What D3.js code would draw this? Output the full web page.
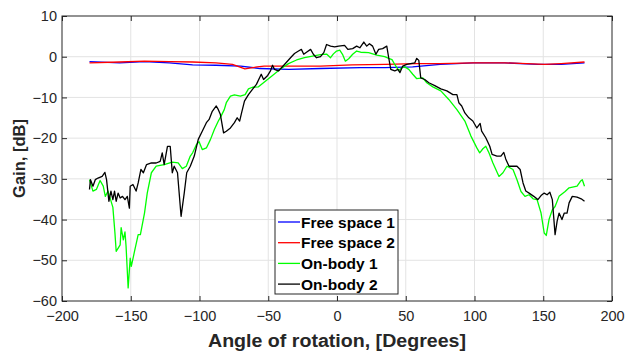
<!DOCTYPE html>
<html>
<head>
<meta charset="utf-8">
<script src="https://cdn.jsdelivr.net/npm/d3@7"></script>
<style>
  html, body { margin: 0; padding: 0; background: #fff; }
  svg { display: block; font-family: "Liberation Sans", Arial, Helvetica, sans-serif; }
</style>
</head>
<body>
<svg id="chart" width="627" height="352"></svg>
<script>
// Radiation gain vs. rotation angle — free space vs. on-body measurements
const xTicks = [-200, -150, -100, -50, 0, 50, 100, 150, 200];
const yTicks = [-60, -50, -40, -30, -20, -10, 0, 10];
const seriesNames = ["Free space 1", "Free space 2", "On-body 1", "On-body 2"];
const seriesColors = ["#0000ff", "#ff0000", "#00ff00", "#000000"];

// [angle (deg), gain (dB)]
const freeSpace1 = [
  [-180,-1.2],[-158,-1.5],[-140,-1.2],[-122,-1.5],[-105,-2.0],[-88,-2.1],[-70,-2.3],
  [-56,-2.9],[-35,-3.1],[-12,-2.9],[17,-2.7],[35,-2.7],[55,-2.5],[75,-1.9],[99,-1.5],
  [122,-1.5],[146,-1.9],[163,-1.9],[180,-1.5]
];
const freeSpace2 = [
  [-180,-1.5],[-158,-1.3],[-140,-1.1],[-122,-1.2],[-105,-1.3],[-88,-1.5],[-76,-1.9],
  [-67,-3.0],[-58,-2.5],[-53,-2.3],[-35,-2.3],[-12,-2.3],[11,-2.0],[35,-1.9],[58,-1.7],
  [75,-1.7],[99,-1.5],[122,-1.5],[151,-1.9],[163,-1.7],[180,-1.3]
];
const onBody1 = [
  [-180,-30.2],[-177.5,-33],[-175,-32.6],[-172.3,-30.4],[-170,-31.8],[-168.5,-34.3],
  [-166.5,-33],[-163,-37],[-161.5,-43.3],[-160.6,-47.8],[-157.7,-46.2],[-157,-42],
  [-155.4,-45],[-154.2,-43],[-153.4,-46.6],[-151.9,-56.8],[-150.4,-49.5],[-149.6,-51.5],
  [-147.5,-48.2],[-144.6,-43.7],[-143,-43.7],[-140,-38.4],[-138,-33.5],[-135,-28.5],
  [-131.5,-26.9],[-125.7,-26.5],[-119.8,-25.9],[-115.5,-26.1],[-112.5,-27.5],
  [-109.6,-26.9],[-106.7,-24.4],[-105,-23.6],[-102.3,-21.6],[-100.3,-20.9],[-98,-22.8],
  [-95,-22.4],[-92,-20.3],[-89.2,-17.9],[-86.3,-15.8],[-84.3,-14.6],[-82,-13],
  [-80.5,-11.3],[-77.5,-9.7],[-74.6,-9.4],[-70.3,-9.7],[-66.8,-9.3],[-64.4,-7.9],
  [-61.5,-7.5],[-57.1,-7.4],[-52.8,-6.2],[-46.9,-4.6],[-41.1,-3],[-35.3,-1.7],
  [-29.4,-0.8],[-23.6,-0.25],[-17.8,0.15],[-12,0.5],[-7.6,0.65],[-4.7,-0.25],
  [-2.6,0.7],[-0.3,1.4],[2,1.6],[4,0.6],[6.1,-1.1],[8.5,-0.5],[11.4,0.6],[14.3,1.4],
  [17.2,1.1],[23,1],[28.9,0.4],[34.7,0],[37.6,-0.4],[40,-0.7],[42,-1.9],[44.9,-3.4],
  [47.2,-2.7],[49.3,-2.5],[52.2,-3.1],[55.1,-4.3],[58,-5.4],[62.4,-5.2],[65.3,-6.4],
  [69.7,-7.4],[75.5,-8.4],[81.3,-10.5],[87.2,-13],[93,-15.8],[97.4,-19.5],
  [101.7,-22.4],[103.8,-23.6],[106.1,-22.6],[108.2,-22],[110.5,-23.6],[113.4,-26.1],
  [117.8,-29.4],[120.7,-28.5],[123.6,-26.9],[128,-27.7],[130.9,-30.2],[133.8,-33.1],
  [136.7,-34.3],[139.7,-33.9],[142.6,-34.9],[145.5,-35.1],[148.4,-38.4],[150.7,-43.3],
  [152.2,-43.9],[154.2,-40],[156.6,-37.6],[158.6,-36.8],[161.5,-34.3],[165.9,-33.1],
  [168.8,-32.2],[174.6,-31.8],[177,-30.6],[178.4,-30.2],[180,-31.8]
];
const onBody2 = [
  [-180,-32.6],[-179.3,-30.2],[-177.5,-31.8],[-175.8,-30.2],[-173.8,-29.8],
  [-170.8,-29.4],[-168.8,-28.4],[-167.6,-30.2],[-165.9,-35.5],[-164.4,-33],
  [-163,-35.1],[-161.8,-33],[-160.6,-35.5],[-159.2,-33.5],[-157.7,-34.7],[-156,-34.3],
  [-154.2,-35.1],[-152.5,-34.3],[-151,-37.2],[-150.4,-31.8],[-148.4,-31.4],
  [-146.1,-33],[-144.6,-31],[-142.6,-27.7],[-140.8,-28.5],[-138.5,-26.5],[-135,-26.1],
  [-131.5,-26.1],[-128.6,-25.7],[-127.1,-23.6],[-125.7,-26.5],[-123.3,-22],
  [-121.3,-22],[-119.8,-28.5],[-118.4,-26.9],[-116,-28.5],[-113.4,-39.2],
  [-111.1,-33.5],[-109.3,-28.5],[-106.7,-26.9],[-103.8,-24.4],[-100.9,-20.3],
  [-98,-18.3],[-95,-16.2],[-93,-15.4],[-90.7,-13.4],[-87.8,-12.1],[-86.3,-13],
  [-84.8,-14.2],[-82.5,-18.7],[-80.5,-18.3],[-77.5,-17.5],[-74.6,-16.2],[-72.6,-15],
  [-70.8,-15.8],[-69.4,-13.8],[-67.3,-10.9],[-64.4,-9.3],[-61.5,-8],[-58.6,-6.8],
  [-55.1,-4.3],[-53.4,-5.6],[-50.4,-4.6],[-48.4,-3.5],[-46.9,-2.1],[-45.5,-3.1],
  [-42.6,-3.5],[-38.2,-1.9],[-33.8,-0.25],[-30.9,0.8],[-28,1.4],[-25.9,1.8],
  [-24.2,0.6],[-22.2,1.1],[-19.2,1.8],[-17.2,0.6],[-14.9,-0.25],[-12,0],[-9.6,1],
  [-7.6,3],[-4.7,2.6],[-1.7,2.4],[1.2,2.6],[5.5,2.8],[7.9,1.8],[11.4,2],[14.3,2.6],
  [16.6,2.2],[19.5,3.6],[21.6,2.6],[23.6,3.2],[25.9,2.6],[28.3,0.6],[30.3,1.8],
  [33.2,2],[36.2,2.6],[37.6,-0.25],[39.1,-3.1],[42,-3.5],[44.3,-3.1],[45.8,-3.9],
  [47.8,-2.3],[50.7,-1.9],[53.6,-1.7],[56.6,-1.5],[58,-0.4],[59.5,-0.9],[60.9,-5.2],
  [63.8,-5.6],[66.8,-6.4],[71.1,-7.1],[75.5,-7.9],[79.9,-8.4],[84.3,-9.3],[87.2,-9.3],
  [88.6,-11.3],[90.7,-12.1],[93,-13.8],[95.9,-15],[98.8,-15.8],[101.7,-17.5],
  [104.1,-16.4],[105.2,-18.3],[108.2,-19.9],[111.1,-22],[112.8,-24],[116.3,-24.4],
  [119.2,-24.4],[121.3,-23.5],[122.7,-25.1],[125.1,-26.9],[128,-26.9],[130.9,-26.9],
  [133.2,-27.7],[135.3,-31],[137.3,-33],[139.7,-33.5],[143.1,-34.3],[146.1,-35.1],
  [148.4,-34.1],[150.7,-33.5],[152.8,-33.9],[154.8,-33.3],[156.6,-35.1],[158.6,-43.7],
  [160.1,-40.4],[161.5,-38.4],[163.6,-40],[165.3,-38.4],[167.3,-38.4],[168.8,-35.9],
  [171.1,-34.3],[174.6,-34.5],[177.6,-34.9],[180,-35.5]
];
const allSeries = [freeSpace1, freeSpace2, onBody1, onBody2];

const svg = d3.select("#chart");
const m = { left: 62, right: 612, top: 16, bottom: 301 };
const axisColor = "#262626";

const x = d3.scaleLinear().domain([-200, 200]).range([m.left, m.right]);
const y = d3.scaleLinear().domain([-60, 10]).range([m.bottom, m.top]);

// grid
const grid = svg.append("g");
grid.selectAll("line.gx").data(xTicks.slice(1, -1)).join("line")
  .attr("x1", d => x(d)).attr("x2", d => x(d))
  .attr("y1", m.top).attr("y2", m.bottom)
  .attr("stroke", "#e3e3e3").attr("stroke-width", 1);
grid.selectAll("line.gy").data(yTicks.slice(1, -1)).join("line")
  .attr("x1", m.left).attr("x2", m.right)
  .attr("y1", d => y(d)).attr("y2", d => y(d))
  .attr("stroke", "#e3e3e3").attr("stroke-width", 1);

// axes (ticks drawn inward on all four sides)
const tickLen = 5;
function styleAxis(g) {
  g.select(".domain").remove();
  g.selectAll(".tick line").attr("stroke", axisColor);
  g.selectAll(".tick text").attr("fill", axisColor).attr("font-size", 14.5)
    .attr("font-family", "'Liberation Sans', Arial, sans-serif");
}
svg.append("g").attr("transform", `translate(0,${m.bottom})`)
  .call(d3.axisBottom(x).tickValues(xTicks).tickSizeInner(-tickLen).tickSizeOuter(0).tickPadding(10))
  .call(styleAxis);
svg.append("g").attr("transform", `translate(0,${m.top})`)
  .call(d3.axisTop(x).tickValues(xTicks).tickSizeInner(-tickLen).tickSizeOuter(0).tickFormat(""))
  .call(styleAxis);
svg.append("g").attr("transform", `translate(${m.left},0)`)
  .call(d3.axisLeft(y).tickValues(yTicks).tickSizeInner(-tickLen).tickSizeOuter(0).tickPadding(5))
  .call(styleAxis);
svg.append("g").attr("transform", `translate(${m.right},0)`)
  .call(d3.axisRight(y).tickValues(yTicks).tickSizeInner(-tickLen).tickSizeOuter(0).tickFormat(""))
  .call(styleAxis);

// data lines
const clipId = "plotClip";
svg.append("clipPath").attr("id", clipId).append("rect")
  .attr("x", m.left).attr("y", m.top).attr("width", m.right - m.left).attr("height", m.bottom - m.top);
const line = d3.line().x(d => x(d[0])).y(d => y(d[1]));
svg.append("g").attr("clip-path", `url(#${clipId})`)
  .selectAll("path").data(allSeries).join("path")
  .attr("d", line)
  .attr("fill", "none")
  .attr("stroke", (d, i) => seriesColors[i])
  .attr("stroke-width", 1.3)
  .attr("stroke-linejoin", "round");

// frame
svg.append("rect")
  .attr("x", m.left).attr("y", m.top)
  .attr("width", m.right - m.left).attr("height", m.bottom - m.top)
  .attr("fill", "none").attr("stroke", axisColor).attr("stroke-width", 1);

// axis titles
svg.append("text")
  .attr("x", (m.left + m.right) / 2).attr("y", 347)
  .attr("text-anchor", "middle").attr("font-weight", "bold").attr("font-size", 18)
  .attr("textLength", 258).attr("lengthAdjust", "spacingAndGlyphs")
  .attr("fill", axisColor)
  .text("Angle of rotation, [Degrees]");
svg.append("text")
  .attr("transform", `translate(25,${(m.top + m.bottom) / 2}) rotate(-90)`)
  .attr("text-anchor", "middle").attr("font-weight", "bold").attr("font-size", 16.5)
  .attr("fill", axisColor)
  .text("Gain, [dB]");

// legend
const lg = svg.append("g").attr("transform", "translate(275,210)");
lg.append("rect").attr("width", 123).attr("height", 84)
  .attr("fill", "#fff").attr("stroke", axisColor).attr("stroke-width", 1);
const items = lg.selectAll("g.item").data(seriesNames).join("g")
  .attr("transform", (d, i) => `translate(0,${12 + i * 20.7})`);
items.append("line").attr("x1", 3).attr("x2", 25).attr("y1", 0).attr("y2", 0)
  .attr("stroke", (d, i) => seriesColors[i]).attr("stroke-width", 1.3);
items.append("text").attr("x", 26).attr("y", 5.5)
  .attr("font-weight", "bold").attr("font-size", 15.5).attr("fill", "#000")
  .text(d => d);
</script>
</body>
</html>
